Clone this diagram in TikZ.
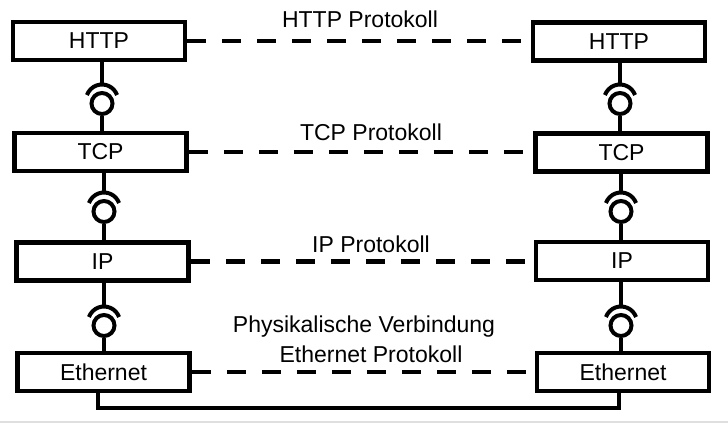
\documentclass[tikz,border=0pt]{standalone}
\usepackage{fontspec}
\setmainfont{Liberation Sans}
\tikzset{
  layer/.style={draw, line width=4.5pt, minimum width=172pt, minimum height=38pt,
    inner sep=0pt, fill=white, font=\fontsize{23}{27}\selectfont},
  conn/.style={line width=4pt},
  proto/.style={line width=4.5pt, dash pattern=on 19pt off 16pt},
  lbl/.style={font=\fontsize{23}{27}\selectfont, anchor=base, inner sep=0pt},
  sockc/.style={circle, draw, line width=4pt, minimum size=21pt, inner sep=0pt},
}
\newcommand\ifacesym[4]{%
  \node[sockc] (#1) at (#4) {};
  \draw[conn] (#1.south) -- (#1.south |- #3.north);
  \draw[conn] (#1.center |- #2.south) -- ([yshift=19pt]#1.center);
  \draw[conn] ([yshift=3pt]#1.center) ++(20:16pt) arc[start angle=20, end angle=160, radius=16pt];
}
\begin{document}
\begin{tikzpicture}[x=1pt, y=1pt]
  \useasboundingbox[fill=white] (0,0) rectangle (728,445);
  % layers left
  \node[layer] (lhttp) at (99,404) {HTTP};
  \node[layer] (ltcp)  at (100.5,293) {TCP};
  \node[layer] (lip)   at (102.5,183.5) {IP};
  \node[layer] (leth)  at (103.5,73) {Ethernet};
  % layers right
  \node[layer] (rhttp) at (619,403.5) {HTTP};
  \node[layer] (rtcp)  at (621.5,292.5) {TCP};
  \node[layer] (rip)   at (622,184) {IP};
  \node[layer] (reth)  at (623,73) {Ethernet};
  % interfaces
  \ifacesym{li1}{lhttp}{ltcp}{102,341.5}
  \ifacesym{li2}{ltcp}{lip}{104,233.5}
  \ifacesym{li3}{lip}{leth}{104,119.5}
  \ifacesym{ri1}{rhttp}{rtcp}{620,341.5}
  \ifacesym{ri2}{rtcp}{rip}{621,233.5}
  \ifacesym{ri3}{rip}{reth}{621,119.5}
  % protocols
  \draw[proto] (lhttp.east) -- (lhttp.east -| rhttp.west);
  \draw[proto] (ltcp.east) -- (ltcp.east -| rtcp.west);
  \draw[proto] (lip.east) -- (lip.east -| rip.west);
  \draw[proto] (leth.east) -- (leth.east -| reth.west);
  \node[lbl] (t1) at (360,417) {HTTP Protokoll};
  \node[lbl] (t2) at (371,304) {TCP Protokoll};
  \node[lbl] (t3) at (371,193) {IP Protokoll};
  \node[lbl] (t4) at (364,113) {Physikalische Verbindung};
  \node[lbl] (t5) at (371,83) {Ethernet Protokoll};
  % physical connection
  \coordinate (pl) at (98,37);
  \coordinate (pr) at (619,37);
  \draw[conn] (leth.south -| pl) -- (pl) -- (pr) -- (reth.south -| pr);
  % page rule
  \draw[gray!25, line width=1.5pt] (0,23) -- (728,23);
\end{tikzpicture}
\end{document}
